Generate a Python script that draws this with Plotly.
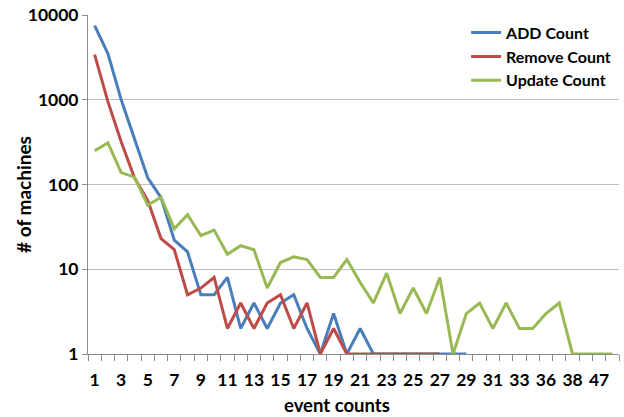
import plotly.graph_objects as go

# event-count buckets (x categories) and the labels shown under the axis
categories = [str(i) for i in range(1, 35)] + ["36", "37", "38", "41", "47", "50"]
shown_labels = {str(i) for i in range(1, 34, 2)} | {"36", "38", "47"}

# number of machines per bucket
add_count = [7500, 3500, 1000, 350, 120, 70, 22, 16, 5, 5,
             8, 2, 4, 2, 4, 5, 2, 1, 3, 1,
             2, 1, 1, 1, 1, 1, 1, 1, 1]
remove_count = [3400, 950, 320, 120, 65, 23, 17, 5, 6, 8,
                2, 4, 2, 4, 5, 2, 4, 1, 2, 1,
                1, 1, 1, 1, 1, 1, 1]
update_count = [250, 310, 138, 122, 57, 71, 30, 44, 25, 29,
                15, 19, 17, 6, 12, 14, 13, 8, 8, 13,
                7, 4, 9, 3, 6, 3, 8, 1, 3, 4,
                2, 4, 2, 2, 3, 4, 1, 1, 1, 1]

y_tickvals = [1, 10, 100, 1000, 10000]
y_ticktext = ["1", "10", "100", "1000", "10000"]

FONT = "Lato"
series = [
    ("ADD Count", add_count, "#4A7EBB"),
    ("Remove Count", remove_count, "#BE4B48"),
    ("Update Count", update_count, "#98B954"),
]

fig = go.Figure()
for name, vals, color in series:
    fig.add_trace(go.Scatter(
        x=categories[:len(vals)], y=vals, name=name, mode="lines",
        line=dict(color=color, width=3),
    ))

fig.update_layout(
    width=624, height=417,
    margin=dict(l=88, r=5, t=15, b=63),
    paper_bgcolor="white", plot_bgcolor="white",
    font=dict(family=FONT, size=15, color="black", weight="bold"),
    showlegend=True,
    legend=dict(
        x=0.712, y=0.998, xanchor="left", yanchor="top",
        bgcolor="rgba(0,0,0,0)", borderwidth=0,
        font=dict(family=FONT, size=16, color="black", weight="bold"),
    ),
    annotations=[
        dict(text="# of machines", xref="paper", yref="paper",
             x=-0.122, y=0.47, textangle=-90, showarrow=False,
             xanchor="center", yanchor="middle",
             font=dict(family=FONT, size=19, weight="bold")),
        dict(text="event counts", xref="paper", yref="paper",
             x=0.468, y=-0.149, showarrow=False,
             xanchor="center", yanchor="middle",
             font=dict(family=FONT, size=18.5, weight="bold")),
    ],
)

fig.update_xaxes(
    type="category", categoryorder="array", categoryarray=categories,
    range=[-0.5, len(categories) - 0.5],
    tickmode="array", tickvals=categories,
    ticktext=[c if c in shown_labels else "" for c in categories],
    tickangle=0, ticklabelstandoff=10,
    tickson="boundaries", ticks="outside", ticklen=6, tickcolor="#8c8c8c",
    showgrid=False, showline=True, linecolor="#8c8c8c", linewidth=1,
    tickfont=dict(family=FONT, size=17.5, weight="bold"),
    zeroline=False,
)
fig.update_yaxes(
    type="log", range=[0, 4],
    tickmode="array", tickvals=y_tickvals, ticktext=y_ticktext,
    ticks="outside", ticklen=5, tickcolor="#8c8c8c",
    showgrid=True, gridcolor="#BFBFBF", gridwidth=1,
    showline=True, linecolor="#8c8c8c", linewidth=1,
    tickfont=dict(family=FONT, size=17.5, weight="bold"),
    zeroline=False,
)

fig.write_html("out.html")
